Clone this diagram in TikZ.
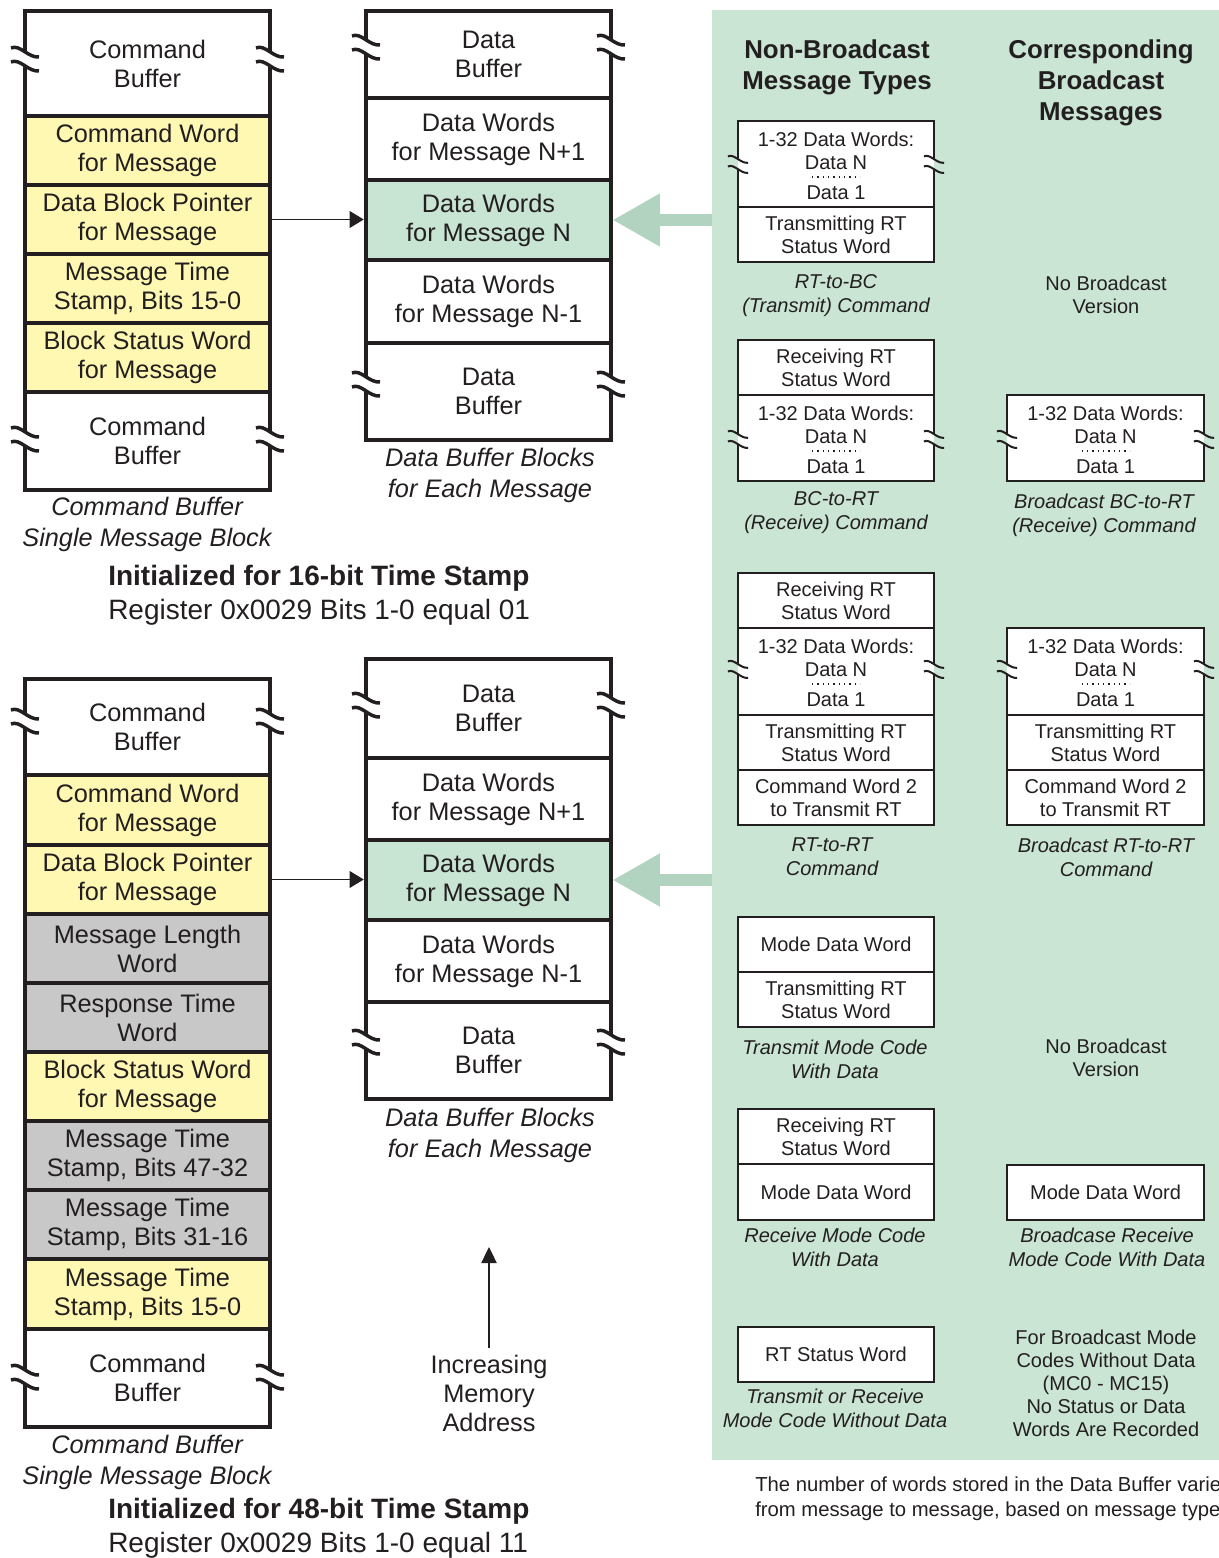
\documentclass[tikz,border=0pt]{standalone}
\usepackage{fontspec}
\setmainfont{Liberation Sans}
\usetikzlibrary{fit,arrows.meta}
\definecolor{txt}{HTML}{231F20}
\definecolor{yel}{HTML}{FFF8B3}
\definecolor{gry}{HTML}{C8C8C8}
\definecolor{grn}{HTML}{C8E4D3}
\definecolor{panelc}{HTML}{CAE5D4}
\definecolor{arrg}{HTML}{B2D3BF}
\newcommand\myBig{\fontsize{19}{21.75}\selectfont}
\newcommand\myBigIt{\fontsize{19}{23.25}\selectfont\itshape}
\newcommand\mySmall{\fontsize{15}{17.25}\selectfont}
\newcommand\mySmallIt{\fontsize{15}{18}\selectfont\itshape}
\newcommand\myHead{\fontsize{19.4}{23.25}\selectfont\bfseries}
\newcommand\myInit{\fontsize{21}{25.5}\selectfont}
\newcommand\myFoot{\fontsize{15.2}{18.75}\selectfont}
% break mark: x, y, scale, left fill, right fill, line width
\newcommand\brkmark[6]{%
  \begin{scope}[shift={(#1,#2)},scale=#3]
    \begin{scope}
      \clip (-20,-25) rectangle (0,25);
      \fill[#4] (-14,-12) .. controls (-5,-16) and (3,-2) .. (14,-3) -- (14,11) .. controls (3,12) and (-5,-2) .. (-14,2) -- cycle;
    \end{scope}
    \begin{scope}
      \clip (0,-25) rectangle (20,25);
      \fill[#5] (-14,-12) .. controls (-5,-16) and (3,-2) .. (14,-3) -- (14,11) .. controls (3,12) and (-5,-2) .. (-14,2) -- cycle;
    \end{scope}
    \draw[draw=txt, line width=#6] (-14,-12) .. controls (-5,-16) and (3,-2) .. (14,-3);
    \draw[draw=txt, line width=#6] (-14,2) .. controls (-5,-2) and (3,12) .. (14,11);
  \end{scope}}
% left-side cell: style, name, x1, y1, x2, y2, text
\newcommand\lcell[7]{%
  \node[#1, fit={(#3,#4)(#5,#6)}] (#2) {};
  \node[ltxt] (#2t) at (#2.center) {#7};}
% right-panel cell: name, x1, y1, x2, y2, text
\newcommand\rbox[6]{%
  \node[rcell, fit={(#2,#3)(#4,#5)}] (#1) {};
  \node[rtxt] (#1t) at (#1.center) {#6};}
% data words block text: x, top, name
\newcommand\dwords[3]{%
  \node[rtxt] (#3a) at (#1,#2+30) {1-32 Data Words:\\Data N};
  \draw[dotl] (#1-24,#2+56) -- (#1+24,#2+56);
  \node[rtxt] (#3b) at (#1,#2+72) {Data 1};}
\tikzset{
  cell/.style={draw=txt, line width=2.4pt, inner sep=0pt, outer sep=0pt},
  dcell/.style={cell, line width=3.2pt},
  ltxt/.style={inner sep=0pt, align=center, font=\myBig, text=txt},
  rcell/.style={draw=txt, line width=1.8pt, fill=white, inner sep=0pt, outer sep=0pt},
  rtxt/.style={inner sep=0pt, align=center, font=\mySmall, text=txt},
  outer/.style={draw=txt, line width=3.6pt},
  bigcap/.style={inner sep=0pt, align=center, font=\myBigIt, text=txt},
  smallcap/.style={inner sep=0pt, align=center, font=\mySmallIt, text=txt},
  plaincap/.style={inner sep=0pt, align=center, font=\mySmall, text=txt},
  dotl/.style={draw=txt, line width=1.1pt, dash pattern=on 1.1pt off 2.9pt},
  thinarr/.style={draw=txt, line width=0.9pt, -{Triangle[length=10.5pt,width=12.5pt]}, shorten <=1.8pt, shorten >=1.7pt},
  bigarr/.style={draw=arrg, line width=9pt, -{Triangle[length=35pt,width=40pt,line width=0pt]}, shorten >=1.7pt},
}
\begin{document}
\begin{tikzpicture}[x=0.75pt,y=-0.75pt]
\useasboundingbox (0,0) rectangle (1219,1558);
\clip (0,0) rectangle (1219,1558);

% green panel
\node[fit={(712,10)(1240,1460)}, fill=panelc, inner sep=0pt, outer sep=0pt] (panel) {};

% ===== top left command buffer =====
\lcell{cell, fill=white}{cbA}{25}{11}{270}{116}{Command\\Buffer}
\lcell{cell, fill=yel}{cwA}{25}{116}{270}{185}{Command Word\\for Message}
\lcell{cell, fill=yel}{dbpA}{25}{185}{270}{254}{Data Block Pointer\\for Message}
\lcell{cell, fill=yel}{mtsA}{25}{254}{270}{323}{Message Time\\Stamp, Bits 15-0}
\lcell{cell, fill=yel}{bswA}{25}{323}{270}{392}{Block Status Word\\for Message}
\lcell{cell, fill=white}{cbA2}{25}{392}{270}{490}{Command\\Buffer}
\draw[outer] (cbA.north west) rectangle (cbA2.south east);
\draw[outer] (cwA.north west) -- (cwA.north east);
\draw[outer] (cbA2.north west) -- (cbA2.north east);

% ===== top data buffer =====
\lcell{dcell, fill=white}{dbA}{366}{11}{611}{98}{Data\\Buffer}
\lcell{dcell, fill=white}{dnpA}{366}{98}{611}{180}{Data Words\\for Message N+1}
\lcell{dcell, fill=grn}{dnA}{366}{180}{611}{260}{Data Words\\for Message N}
\lcell{dcell, fill=white}{dnmA}{366}{260}{611}{343}{Data Words\\for Message N-1}
\lcell{dcell, fill=white}{dbA2}{366}{343}{611}{440}{Data\\Buffer}
\draw[outer] (dbA.north west) rectangle (dbA2.south east);

% ===== bottom left command buffer =====
\lcell{cell, fill=white}{cbB}{25}{679}{270}{775}{Command\\Buffer}
\lcell{cell, fill=yel}{cwB}{25}{775}{270}{845}{Command Word\\for Message}
\lcell{cell, fill=yel}{dbpB}{25}{845}{270}{914}{Data Block Pointer\\for Message}
\lcell{cell, fill=gry}{mlB}{25}{914}{270}{983}{Message Length\\Word}
\lcell{cell, fill=gry}{rtB}{25}{983}{270}{1052}{Response Time\\Word}
\lcell{cell, fill=yel}{bswB}{25}{1052}{270}{1121}{Block Status Word\\for Message}
\lcell{cell, fill=gry}{ts47B}{25}{1121}{270}{1190}{Message Time\\Stamp, Bits 47-32}
\lcell{cell, fill=gry}{ts31B}{25}{1190}{270}{1259}{Message Time\\Stamp, Bits 31-16}
\lcell{cell, fill=yel}{ts15B}{25}{1259}{270}{1329}{Message Time\\Stamp, Bits 15-0}
\lcell{cell, fill=white}{cbB2}{25}{1329}{270}{1427}{Command\\Buffer}
\draw[outer] (cbB.north west) rectangle (cbB2.south east);
\draw[outer] (cwB.north west) -- (cwB.north east);
\draw[outer] (cbB2.north west) -- (cbB2.north east);

% ===== bottom data buffer =====
\lcell{dcell, fill=white}{dbB}{366}{659}{611}{758}{Data\\Buffer}
\lcell{dcell, fill=white}{dnpB}{366}{758}{611}{840}{Data Words\\for Message N+1}
\lcell{dcell, fill=grn}{dnB}{366}{840}{611}{920}{Data Words\\for Message N}
\lcell{dcell, fill=white}{dnmB}{366}{920}{611}{1002}{Data Words\\for Message N-1}
\lcell{dcell, fill=white}{dbB2}{366}{1002}{611}{1099}{Data\\Buffer}
\draw[outer] (dbB.north west) rectangle (dbB2.south east);

% break marks (left side)
\brkmark{25}{60}{1}{white}{white}{2.6pt}
\brkmark{270}{60}{1}{white}{white}{2.6pt}
\brkmark{25}{440}{1}{white}{white}{2.6pt}
\brkmark{270}{440}{1}{white}{white}{2.6pt}
\brkmark{366}{48}{1}{white}{white}{2.6pt}
\brkmark{611}{48}{1}{white}{white}{2.6pt}
\brkmark{366}{385}{1}{white}{white}{2.6pt}
\brkmark{611}{385}{1}{white}{white}{2.6pt}
\brkmark{25}{722}{1}{white}{white}{2.6pt}
\brkmark{270}{722}{1}{white}{white}{2.6pt}
\brkmark{25}{1378}{1}{white}{white}{2.6pt}
\brkmark{270}{1378}{1}{white}{white}{2.6pt}
\brkmark{366}{706}{1}{white}{white}{2.6pt}
\brkmark{611}{706}{1}{white}{white}{2.6pt}
\brkmark{366}{1043}{1}{white}{white}{2.6pt}
\brkmark{611}{1043}{1}{white}{white}{2.6pt}

% captions left
\node[bigcap] (capA) at (147,524.5) {Command Buffer\\Single Message Block};
\node[bigcap] (dcapA) at (490,475.5) {Data Buffer Blocks\\for Each Message};
\node[inner sep=0pt, anchor=west, align=left, font=\myInit, text=txt] (initA) at (108,595) {\textbf{Initialized for 16-bit Time Stamp}\\Register 0x0029 Bits 1-0 equal 01};
\node[bigcap] (capB) at (147,1462) {Command Buffer\\Single Message Block};
\node[bigcap] (dcapB) at (490,1135.5) {Data Buffer Blocks\\for Each Message};
\node[inner sep=0pt, anchor=west, align=left, font=\myInit, text=txt] (initB) at (108,1528.5) {\textbf{Initialized for 48-bit Time Stamp}\\Register 0x0029 Bits 1-0 equal 11};

% increasing memory address
\node[inner sep=0pt, align=center, font=\myBig, text=txt] (inc) at (489,1393) {Increasing\\Memory\\Address};
\coordinate (incTop) at (489,1247);
\draw[draw=txt, line width=0.9pt, -{Triangle[length=12pt,width=11.5pt]}, shorten <=5pt] (inc.north) -- (incTop);

% pointer arrows
\draw[thinarr] (dbpA.east) -- (dbpA.east -| dnA.west);
\draw[thinarr] (dbpB.east) -- (dbpB.east -| dnB.west);
\draw[bigarr] (panel.west |- dnA.east) -- (dnA.east);
\draw[bigarr] (panel.west |- dnB.east) -- (dnB.east);

% ===== right panel =====
\node[inner sep=0pt, align=center, font=\myHead, text=txt] (h1) at (837,67.5) {Non-Broadcast\\Message Types};
\node[inner sep=0pt, align=center, font=\myHead, text=txt] (h2) at (1101,83) {Corresponding\\Broadcast\\Messages};

% B1 RT-to-BC
\rbox{r1a}{738}{121}{934}{207}{}
\rbox{r1b}{738}{207}{934}{262}{Transmitting RT\\Status Word}
\dwords{836}{121}{r1d}
\brkmark{738}{165}{0.72}{panelc}{white}{1.5pt}
\brkmark{934}{165}{0.72}{white}{panelc}{1.5pt}
\node[smallcap] (c1) at (836,296) {RT-to-BC\\(Transmit) Command};
\node[plaincap] (n1) at (1106,294.5) {No Broadcast\\Version};

% B2 BC-to-RT
\rbox{r2a}{738}{340}{934}{395}{Receiving RT\\Status Word}
\rbox{r2b}{738}{395}{934}{481}{}
\dwords{836}{395}{r2d}
\brkmark{738}{440}{0.72}{panelc}{white}{1.5pt}
\brkmark{934}{440}{0.72}{white}{panelc}{1.5pt}
\node[smallcap] (c2) at (836,513) {BC-to-RT\\(Receive) Command};
\rbox{q2b}{1007}{395}{1204}{481}{}
\dwords{1105.5}{395}{q2d}
\brkmark{1007}{440}{0.72}{panelc}{white}{1.5pt}
\brkmark{1204}{440}{0.72}{white}{panelc}{1.5pt}
\node[smallcap] (d2) at (1104,515.5) {Broadcast BC-to-RT\\(Receive) Command};

% B3 RT-to-RT
\rbox{r3a}{738}{573}{934}{628}{Receiving RT\\Status Word}
\rbox{r3b}{738}{628}{934}{715}{}
\rbox{r3c}{738}{715}{934}{770}{Transmitting RT\\Status Word}
\rbox{r3d}{738}{770}{934}{825}{Command Word 2\\to Transmit RT}
\dwords{836}{628}{r3w}
\brkmark{738}{670}{0.72}{panelc}{white}{1.5pt}
\brkmark{934}{670}{0.72}{white}{panelc}{1.5pt}
\node[smallcap] (c3) at (832,857) {RT-to-RT\\Command};
\rbox{q3b}{1007}{628}{1204}{715}{}
\rbox{q3c}{1007}{715}{1204}{770}{Transmitting RT\\Status Word}
\rbox{q3d}{1007}{770}{1204}{825}{Command Word 2\\to Transmit RT}
\dwords{1105.5}{628}{q3w}
\brkmark{1007}{670}{0.72}{panelc}{white}{1.5pt}
\brkmark{1204}{670}{0.72}{white}{panelc}{1.5pt}
\node[smallcap] (d3) at (1106,857) {Broadcast RT-to-RT\\Command};

% B4 transmit mode code with data
\rbox{r4a}{738}{917}{934}{972}{Mode Data Word}
\rbox{r4b}{738}{972}{934}{1027}{Transmitting RT\\Status Word}
\node[smallcap] (c4) at (835,1059.5) {Transmit Mode Code\\With Data};
\node[plaincap] (n4) at (1106,1057.5) {No Broadcast\\Version};

% B5 receive mode code with data
\rbox{r5a}{738}{1109}{934}{1164}{Receiving RT\\Status Word}
\rbox{r5b}{738}{1164}{934}{1220}{Mode Data Word}
\node[smallcap] (c5) at (835,1247.5) {Receive Mode Code\\With Data};
\rbox{q5}{1007}{1165}{1204}{1220}{Mode Data Word}
\node[smallcap] (d5) at (1107,1247.5) {Broadcase Receive\\Mode Code With Data};

% B6 mode code without data
\rbox{r6}{738}{1327}{934}{1382}{RT Status Word}
\node[smallcap] (c6) at (835,1408.5) {Transmit or Receive\\Mode Code Without Data};
\node[plaincap] (n6) at (1106,1383) {For Broadcast Mode\\Codes Without Data\\(MC0 - MC15)\\No Status or Data\\Words Are Recorded};

% footer
\node[inner sep=0pt, anchor=west, align=left, font=\myFoot, text=txt] (foot) at (755,1498.5) {The number of words stored in the Data Buffer varies\\from message to message, based on message types};
\end{tikzpicture}
\end{document}
